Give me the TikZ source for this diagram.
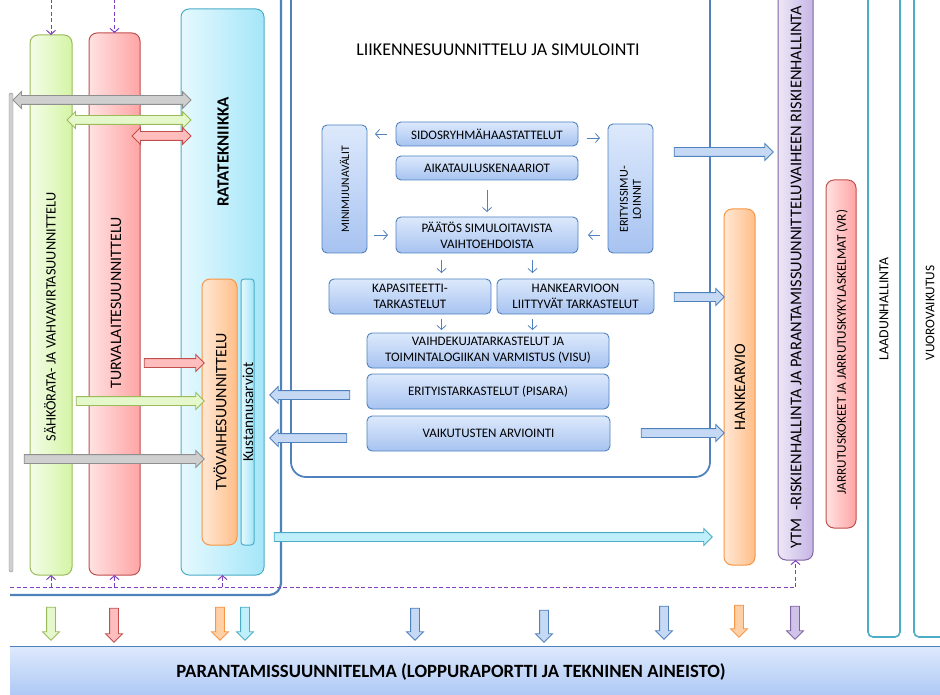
\documentclass[tikz,border=0pt]{standalone}
\usepackage{fontspec}
\setmainfont{Carlito}
\usetikzlibrary{arrows.meta,shapes.arrows,calc}
\definecolor{bblue}{HTML}{4F81BD}
\definecolor{bT}{HTML}{DDE9FC}
\definecolor{bB}{HTML}{A7C3F1}
\definecolor{gbord}{HTML}{9BBB59}
\definecolor{gL}{HTML}{F3FCE8}
\definecolor{gR}{HTML}{D5F5A5}
\definecolor{rbord}{HTML}{C0504D}
\definecolor{rL}{HTML}{FFE2E2}
\definecolor{rR}{HTML}{FFA4A4}
\definecolor{cbord}{HTML}{4BACC6}
\definecolor{cL}{HTML}{E6F9FE}
\definecolor{cR}{HTML}{A4E6F9}
\definecolor{obord}{HTML}{F79646}
\definecolor{oL}{HTML}{FFE8D6}
\definecolor{oR}{HTML}{FFBE88}
\definecolor{pbord}{HTML}{8064A2}
\definecolor{pL}{HTML}{EDE8F7}
\definecolor{pR}{HTML}{C6B5E6}
\definecolor{dpurp}{HTML}{7F3FBF}
\definecolor{grayB}{HTML}{8F8F8F}
\definecolor{grayF}{HTML}{CFCFCF}
\definecolor{gF}{HTML}{E5F8CB}
\definecolor{rF}{HTML}{FFBDBD}
\definecolor{bF}{HTML}{C5D8F4}
\definecolor{cF}{HTML}{BFEFFB}
\definecolor{oF}{HTML}{FFCFA6}
\definecolor{pF}{HTML}{CFC3E9}
\definecolor{barT}{HTML}{DEE9FC}
\definecolor{barB}{HTML}{A8C5F4}
\tikzset{
 every node/.style={inner sep=0pt, outer sep=0pt},
 bbox/.style={draw=bblue, line width=0.9pt, rounded corners=5pt, top color=bT, bottom color=bB, anchor=north west, align=center, font=\fontsize{13}{16}\selectfont},
 colbox/.style={rounded corners=8pt, line width=1pt, anchor=north west},
 gbox/.style={colbox, draw=gbord, left color=gL, right color=gR},
 rbox/.style={colbox, draw=rbord, left color=rL, right color=rR},
 cbox/.style={colbox, draw=cbord, left color=cL, right color=cR},
 obox/.style={colbox, draw=obord, left color=oL, right color=oR},
 pbox/.style={colbox, draw=pbord, left color=pL, right color=pR},
 vtext/.style={rotate=90, align=center, font=\fontsize{13}{16}\selectfont},
 sarr/.style={draw=bblue, line width=0.8pt, -{Straight Barb[length=4pt,width=9pt]}},
 dsh/.style={draw=dpurp, line width=1pt, dash pattern=on 4pt off 2.5pt},
 dtip/.style={-{Straight Barb[length=4pt,width=9pt]}},
 barr/.style={single arrow, single arrow head extend=4pt, single arrow tip angle=90, inner sep=4pt, minimum width=0pt, line width=0.8pt},
 dbarr/.style={double arrow, double arrow head extend=4pt, double arrow tip angle=90, inner sep=4pt, minimum width=0pt, line width=0.8pt},
 grayA/.style={draw=grayB, fill=grayF},
 greenA/.style={draw=gbord, fill=gF},
 redA/.style={draw=rbord, fill=rF},
 blueA/.style={draw=bblue, fill=bF},
 cyanA/.style={draw=cbord, fill=cF},
 orangeA/.style={draw=obord, fill=oF},
 purpA/.style={draw=pbord, fill=pF},
}
\begin{document}
\begin{tikzpicture}[x=1pt,y=-1pt]
\useasboundingbox (0,0) rectangle (940,695);
\clip (0,0) rectangle (940,695);

% frames
\draw[bblue, line width=2.2pt, rounded corners=12pt] (281,-5) -- (281,595) -- (10,595);
\draw[bblue, line width=1.8pt, rounded corners=15pt] (291,-5) -- (291,477) -- (710,477) -- (710,-5);
\draw[cbord, line width=1.6pt, rounded corners=5pt] (868,-5) -- (868,637) -- (900,637) -- (900,-5);
\draw[cbord, line width=1.6pt, rounded corners=5pt] (914,-5) -- (914,637) -- (950,637);

\node[font=\fontsize{18}{20}\selectfont] (title) at (498,50) {LIIKENNESUUNNITTELU JA SIMULOINTI};

% gray bar and columns
\node[draw=grayB, fill=grayF, rounded corners=2pt, minimum width=4pt, minimum height=479pt, anchor=north west] (gbar) at (9,93) {};
\node[gbox, minimum width=42pt, minimum height=540pt] (gcol) at (30,35) {};
\node[rbox, minimum width=51pt, minimum height=542pt] (rcol) at (89,33) {};
\node[cbox, minimum width=83pt, minimum height=566pt] (racol) at (181,9) {};
\node[obox, minimum width=35pt, minimum height=266pt] (tyo) at (202,279) {};
\node[cbox, rounded corners=3pt, minimum width=13pt, minimum height=266pt] (kust) at (241,279) {};
\node[obox, minimum width=31pt, minimum height=356pt] (hank) at (724,209) {};
\node[pbox, minimum width=35pt, minimum height=575pt] (ytm) at (778,-15) {};
\node[rbox, minimum width=30pt, minimum height=348pt] (jarru) at (826,180) {};

\node[vtext, font=\fontsize{14.3}{16}\selectfont] (tg) at (50,317) {SÄHKÖRATA- JA VAHVAVIRTASUUNNITTELU};
\node[vtext, font=\fontsize{15.9}{18}\selectfont] (tr) at (116,303) {TURVALAITESUUNNITTELU};
\node[vtext, font=\bfseries\fontsize{17}{20}\selectfont] (tra) at (223,152) {RATATEKNIIKKA};
\node[vtext, font=\fontsize{16}{18}\selectfont] (tt) at (220,412) {TYÖVAIHESUUNNITTELU};
\node[vtext, font=\fontsize{15.2}{18}\selectfont] (tk) at (248,412) {Kustannusarviot};
\node[vtext, font=\fontsize{16}{18}\selectfont] (th) at (740,387) {HANKEARVIO};
\node[vtext, font=\fontsize{16.4}{18}\selectfont] (ty) at (796,277) {YTM\ \ -RISKIENHALLINTA JA PARANTAMISSUUNNITTELUVAIHEEN RISKIENHALLINTA};
\node[vtext, font=\fontsize{13.2}{15}\selectfont] (tj) at (842,352) {JARRUTUSKOKEET JA JARRUTUSKYKYLASKELMAT (VR)};
\node[vtext, font=\fontsize{13.8}{15}\selectfont] (tl) at (884,309) {LAADUNHALLINTA};
\node[vtext, font=\fontsize{13.3}{15}\selectfont] (tv) at (930,313) {VUOROVAIKUTUS};

% blue boxes
\node[bbox, minimum width=45pt, minimum height=128pt] (mini) at (322,125) {};
\node[vtext, font=\fontsize{11.5}{14}\selectfont] (tmini) at (mini.center) {MINIMIJUNAVÄLIT};
\node[bbox, minimum width=182pt, minimum height=24pt] (sidos) at (396,122) {SIDOSRYHMÄHAASTATTELUT};
\node[bbox, minimum width=182pt, minimum height=24pt] (aika) at (396,156) {AIKATAULUSKENAARIOT};
\node[bbox, minimum width=182pt, minimum height=36pt] (paatos) at (396,217) {PÄÄTÖS SIMULOITAVISTA\\VAIHTOEHDOISTA};
\node[bbox, minimum width=45pt, minimum height=129pt] (erit) at (608,124) {};
\node[vtext, font=\fontsize{12.2}{13}\selectfont] (terit) at ([yshift=-11pt]erit.center) {ERITYISSIMU-\\LOINNIT};
\node[bbox, minimum width=162pt, minimum height=35pt] (kapa) at (329,279) {KAPASITEETTI-\\TARKASTELUT};
\node[bbox, minimum width=157pt, minimum height=35pt] (hanke) at (497,279) {HANKEARVIOON\\LIITTYVÄT TARKASTELUT};
\node[bbox, minimum width=242pt, minimum height=35pt] (vaihde) at (367,333) {VAIHDEKUJATARKASTELUT JA\\TOIMINTALOGIIKAN VARMISTUS (VISU)};
\node[bbox, minimum width=242pt, minimum height=35pt] (pisara) at (367,374) {ERITYISTARKASTELUT (PISARA)};
\node[bbox, minimum width=243pt, minimum height=35pt] (vaik) at (367,416) {VAIKUTUSTEN ARVIOINTI};

% small arrows
\draw[sarr] ([xshift=-9pt]sidos.west) -- ([xshift=-21pt]sidos.west);
\draw[sarr] ([xshift=9pt,yshift=-4pt]sidos.east) -- ([xshift=22pt,yshift=-4pt]sidos.east);
\draw[sarr] ([yshift=-10pt]aika.south) -- ([yshift=5pt]paatos.north);
\coordinate (mp) at (mini.east |- paatos.west);
\coordinate (ep) at (erit.west |- paatos.east);
\draw[sarr] ([xshift=7pt]mp) -- ([xshift=-8pt]paatos.west);
\draw[sarr] ([xshift=-8pt]ep) -- ([xshift=10pt]paatos.east);
\coordinate (p1) at ($(paatos.south west)!0.25!(paatos.south east)$);
\coordinate (p2) at ($(paatos.south west)!0.75!(paatos.south east)$);
\coordinate (k1) at (p1 |- kapa.north);
\coordinate (k2) at (p2 |- hanke.north);
\coordinate (q1) at (p1 |- kapa.south);
\coordinate (q2) at (p2 |- hanke.south);
\coordinate (v1) at (p1 |- vaihde.north);
\coordinate (v2) at (p2 |- vaihde.north);
\draw[sarr] ([yshift=-7pt]p1) -- ([yshift=6pt]k1);
\draw[sarr] ([yshift=-7pt]p2) -- ([yshift=6pt]k2);
\draw[sarr] ([yshift=-5pt]q1) -- ([yshift=3pt]v1);
\draw[sarr] ([yshift=-5pt]q2) -- ([yshift=3pt]v2);

% block arrows
\node[dbarr, grayA, minimum height=178pt] (da1) at (102,100) {};
\node[dbarr, greenA, minimum height=124pt] (da2) at (129,120) {};
\node[dbarr, redA, minimum height=59pt] (da3) at (161.5,136) {};
\node[barr, redA, minimum height=60pt] (ar1) at (172,363) {};
\node[barr, greenA, minimum height=128pt] (ar2) at (138,401) {};
\node[barr, grayA, minimum height=180pt] (ar3) at (112,459) {};
\node[barr, cyanA, minimum height=438pt] (ar4) at (491,537) {};
\node[barr, blueA, minimum height=99pt] (ar5) at (721.5,152) {};
\node[barr, blueA, minimum height=50pt] (ar6) at (697,297) {};
\node[barr, blueA, minimum height=83pt] (ar7) at (680.5,433) {};
\node[barr, blueA, rotate=180, minimum height=80pt] (ar8) at (312,395) {};
\node[barr, blueA, rotate=180, minimum height=77pt] (ar9) at (310.5,438) {};

% dashed purple
\draw[dsh, dtip] ([yshift=36pt]gcol.north) -- (gcol.north);
\draw[dsh, dtip] ([yshift=34pt]rcol.north) -- (rcol.north);
\coordinate (dl) at (10,587);
\coordinate (dr) at (ytm.south |- dl);
\draw[dsh] (dl) -- (dr);
\draw[dsh, dtip] (dr) -- (ytm.south);
\draw[dsh, dtip] (gcol.south |- dl) -- (gcol.south);
\draw[dsh, dtip] (rcol.south |- dl) -- (rcol.south);
\draw[dsh, dtip] (racol.south |- dl) -- (racol.south);

% bottom down arrows
\node[barr, greenA, rotate=-90, minimum height=33pt] (d1) at (51,621.5) {};
\node[barr, redA, rotate=-90, minimum height=34pt] (d2) at (114,623) {};
\node[barr, orangeA, rotate=-90, minimum height=33pt] (d3) at (220,621.5) {};
\node[barr, cyanA, rotate=-90, minimum height=33pt] (d4) at (245,621.5) {};
\node[barr, blueA, rotate=-90, minimum height=32pt] (d5) at (415,622) {};
\node[barr, blueA, rotate=-90, minimum height=32pt] (d6) at (544,624) {};
\node[barr, blueA, rotate=-90, minimum height=33pt] (d7) at (664,620.5) {};
\node[barr, orangeA, rotate=-90, minimum height=32pt] (d8) at (739,619) {};
\node[barr, purpA, rotate=-90, minimum height=33pt] (d9) at (795,620.5) {};

% bottom bar
\node[top color=barT, bottom color=barB, minimum width=935pt, minimum height=55pt, anchor=north west] (bar) at (10,646) {};
\draw[bblue, line width=1pt] (bar.north west) -- (bar.north east);
\node[font=\bfseries\fontsize{18.7}{22}\selectfont] (bartext) at (451,672) {PARANTAMISSUUNNITELMA (LOPPURAPORTTI JA TEKNINEN AINEISTO)};
\end{tikzpicture}
\end{document}
